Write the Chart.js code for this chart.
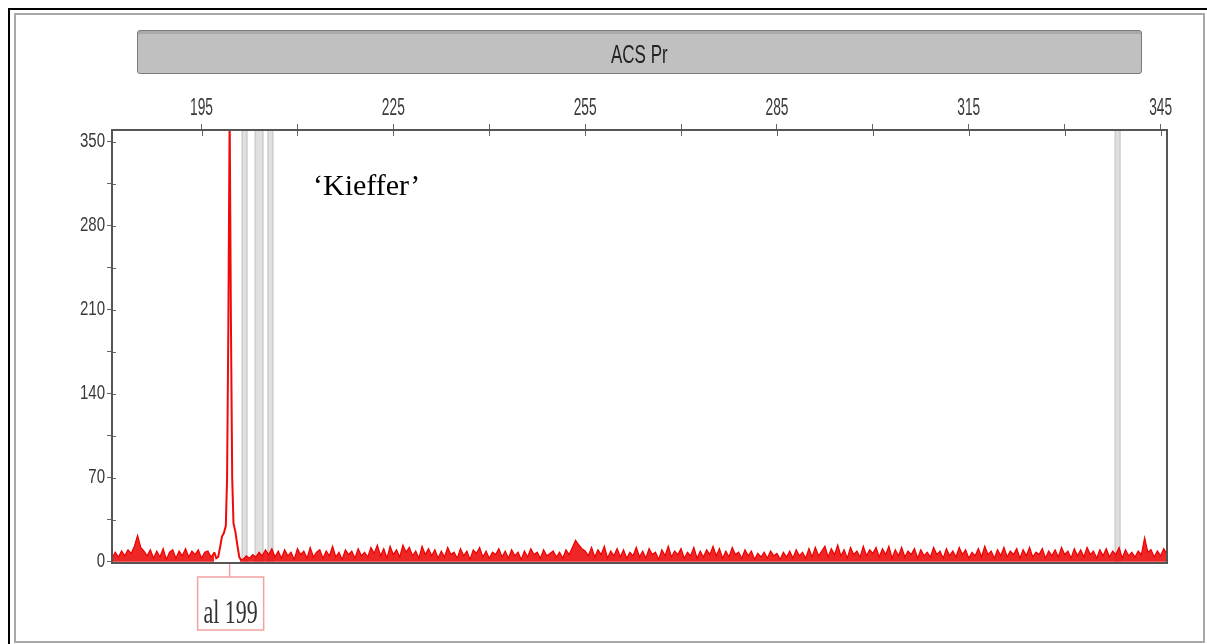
<!DOCTYPE html>
<html>
<head>
<meta charset="utf-8">
<script src="https://cdn.jsdelivr.net/npm/chart.js@4.4.0/dist/chart.umd.min.js"></script>
<style>
    body { margin: 0; background: #fff; }
    #wrap { position: relative; width: 1207px; height: 644px; overflow: hidden; background: #fff; }
    #chart { position: absolute; left: 0; top: 0; }
    .frame-black { position: absolute; left: 8px; top: 8px; width: 1199px; height: 640px; border-top: 2px solid #000; border-left: 2px solid #000; }
    .frame-gray { position: absolute; left: 14px; top: 13px; width: 1187px; height: 626px; border: 2px solid #a8a8a8; }
    #titlebar {
        position: absolute; left: 137px; top: 30px; width: 1003px; height: 42px;
        background: #c0c0c0; border: 1px solid #7c7c7c; border-radius: 3px;
        box-shadow: inset 0 3px 0 #a9a9a9;
        text-align: center; line-height: 46px;
    }
    #titlebar span {
        display: inline-block; transform: scale(0.85, 1.25);
        font-family: 'Liberation Sans', Arial, sans-serif; font-size: 20px; color: #222;
    }
    #kieffer {
        position: absolute; left: 313px; top: 168px;
        font-family: 'Liberation Serif', 'DejaVu Serif', serif; font-size: 30px; color: #000;
    }
</style>
</head>
<body>
<div id="wrap">
    <div class="frame-black"></div>
    <div class="frame-gray"></div>
    <canvas id="chart" width="1207" height="644"></canvas>
    <div id="titlebar"><span>ACS Pr</span></div>
    <div id="kieffer">‘Kieffer’</div>
</div>
<script>
// Fragment analysis trace, marker ACS Pr, cultivar 'Kieffer'

const xMin = 181;
const xMax = 346;
const xTicks = [195, 210, 225, 240, 255, 270, 285, 300, 315, 330, 345];
const xLabelTicks = [195, 225, 255, 285, 315, 345];
const yTicks = [0, 35, 70, 105, 140, 175, 210, 245, 280, 315, 350];
const yLabelTicks = [0, 70, 140, 210, 280, 350];

// background noise, sampled every 0.5 bp from 181 (null where the peak sits)
const noiseStart = 181;
const noiseStep = 0.5;
const noiseValues = [
    3, 8, 4, 9, 5, 10, 7, 13, 22, 12, 9, 5, 10, 3, 9, 4, 11, 2, 8, 10,
    3, 9, 5, 11, 4, 9, 6, 10, 3, 8, 9, 4, 8, null, null, null, null, null, null, null,
    2, 2, 5, 3, 6, 4, 8, 5, 10, 6, 11, 4, 9, 3, 10, 5, 8, 2, 11, 6,
    9, 3, 12, 4, 8, 10, 3, 9, 5, 13, 4, 8, 2, 10, 6, 9, 3, 11, 5, 8,
    4, 12, 7, 14, 5, 11, 3, 13, 6, 10, 4, 14, 8, 12, 5, 9, 3, 13, 6, 11,
    5, 10, 3, 9, 4, 12, 6, 8, 3, 11, 5, 9, 2, 10, 7, 12, 4, 9, 3, 8,
    6, 11, 4, 9, 3, 10, 5, 8, 2, 9, 4, 11, 6, 8, 3, 10, 5, 7, 9, 4,
    8, 3, 10, 6, 12, 18, 14, 11, 9, 5, 12, 4, 10, 6, 13, 3, 9, 5, 11, 4,
    10, 3, 8, 5, 12, 4, 9, 3, 11, 6, 8, 2, 10, 5, 13, 4, 9, 6, 11, 3,
    8, 5, 12, 3, 9, 4, 10, 6, 13, 5, 11, 3, 9, 4, 12, 6, 8, 3, 10, 5,
    9, 2, 7, 4, 8, 3, 9, 5, 7, 2, 8, 4, 9, 3, 10, 5, 8, 3, 11, 4,
    12, 5, 9, 13, 4, 11, 6, 14, 5, 10, 3, 12, 6, 9, 4, 13, 5, 10, 7, 12,
    4, 11, 6, 13, 3, 10, 5, 12, 4, 9, 6, 11, 3, 10, 5, 8, 4, 12, 6, 9,
    3, 11, 5, 9, 4, 12, 6, 10, 3, 8, 5, 11, 4, 13, 6, 9, 3, 10, 5, 12,
    4, 9, 6, 11, 3, 10, 5, 12, 4, 8, 6, 11, 3, 9, 5, 10, 4, 12, 6, 9,
    3, 11, 5, 10, 4, 12, 6, 9, 3, 10, 5, 11, 4, 9, 6, 12, 3, 10, 5, 8,
    4, 9, 6, 20, 8, 10, 4, 9, 5, 11, 6
];

// allele peak at 199
const peakX = [197.0, 197.3, 197.6, 197.9, 198.2, 198.5, 198.8, 199.0, 199.2, 199.4, 199.6, 199.8, 200.0, 200.3, 200.6, 200.9, 201.1];
const peakY = [8, 3, 4, 12, 21, 24, 30, 70, 200, 375, 200, 70, 32, 25, 14, 4, 2];
const alleleLabel = 'al 199';
const alleleX = 199.4;

// grey bins
const binStarts = [201.25, 203.3, 205.3, 337.8];
const binEnds = [202.2, 204.7, 206.25, 338.75];

const noiseData = noiseValues.map((v, i) => ({ x: noiseStart + i * noiseStep, y: v }));
const peakData = peakX.map((x, i) => ({ x: x, y: peakY[i] }));

const labelFont = "16px 'Liberation Sans', Arial, sans-serif";

const binsPlugin = {
    id: 'bins',
    beforeDatasetsDraw(chart) {
        const { ctx, chartArea, scales } = chart;
        ctx.save();
        binStarts.forEach((s, i) => {
            const x1 = scales.x.getPixelForValue(s);
            const x2 = scales.x.getPixelForValue(binEnds[i]);
            ctx.fillStyle = '#e0e0e0';
            ctx.fillRect(x1, chartArea.top, x2 - x1, chartArea.bottom - chartArea.top);
            ctx.fillStyle = '#cfcfcf';
            ctx.fillRect(x1, chartArea.top, 1.5, chartArea.bottom - chartArea.top);
            ctx.fillRect(x2 - 1.5, chartArea.top, 1.5, chartArea.bottom - chartArea.top);
        });
        ctx.restore();
    }
};

// narrow, tall tick labels like the original software, plus inner tick stubs
const tickLabelPlugin = {
    id: 'tickLabels',
    afterDraw(chart) {
        const { ctx, chartArea, scales } = chart;
        ctx.save();
        ctx.strokeStyle = '#666';
        ctx.lineWidth = 1;
        xTicks.forEach(v => {
            const x = Math.round(scales.x.getPixelForValue(v)) + 0.5;
            ctx.beginPath();
            ctx.moveTo(x, chartArea.top);
            ctx.lineTo(x, chartArea.top + 6);
            ctx.stroke();
        });
        yTicks.forEach(v => {
            const y = Math.round(scales.y.getPixelForValue(v)) + 0.5;
            ctx.beginPath();
            ctx.moveTo(chartArea.left, y);
            ctx.lineTo(chartArea.left + 4, y);
            ctx.stroke();
        });

        ctx.fillStyle = '#3a3a3a';
        ctx.font = labelFont;
        ctx.textAlign = 'center';
        ctx.textBaseline = 'middle';
        xLabelTicks.forEach(v => {
            ctx.save();
            ctx.translate(scales.x.getPixelForValue(v), chartArea.top - 21);
            ctx.scale(0.86, 1.45);
            ctx.fillText(String(v), 0, 0);
            ctx.restore();
        });
        ctx.textAlign = 'right';
        yLabelTicks.forEach(v => {
            ctx.save();
            ctx.translate(chartArea.left - 7, scales.y.getPixelForValue(v));
            ctx.scale(0.94, 1.22);
            ctx.fillText(String(v), 0, 0);
            ctx.restore();
        });
        ctx.restore();
    }
};

const framePlugin = {
    id: 'frame',
    afterDraw(chart) {
        const { ctx, chartArea, scales } = chart;
        ctx.save();
        ctx.strokeStyle = '#555';
        ctx.lineWidth = 2;
        ctx.strokeRect(chartArea.left, chartArea.top, chartArea.right - chartArea.left, chartArea.bottom - chartArea.top);

        // allele label box under the peak
        const px = scales.x.getPixelForValue(alleleX);
        const boxW = 66, boxH = 53;
        const boxTop = chartArea.bottom + 14;
        ctx.strokeStyle = '#f3a2a2';
        ctx.lineWidth = 1.5;
        ctx.beginPath();
        ctx.moveTo(px, chartArea.bottom + 1);
        ctx.lineTo(px, boxTop);
        ctx.stroke();
        ctx.strokeRect(px - 32, boxTop, boxW, boxH);

        ctx.fillStyle = '#333';
        ctx.textAlign = 'center';
        ctx.textBaseline = 'alphabetic';
        ctx.translate(px + 1, boxTop + 46);
        ctx.scale(1, 1.55);
        ctx.font = "22px 'Liberation Serif', 'DejaVu Serif', serif";
        ctx.fillText(alleleLabel, 0, 0);
        ctx.restore();
    }
};

new Chart(document.getElementById('chart').getContext('2d'), {
    type: 'line',
    data: {
        datasets: [
            {
                label: 'noise',
                data: noiseData,
                borderColor: 'rgb(238, 0, 0)',
                backgroundColor: 'rgba(235, 0, 0, 0.85)',
                borderWidth: 1.2,
                fill: 'origin',
                pointRadius: 0,
                tension: 0,
                spanGaps: false
            },
            {
                label: 'peak',
                data: peakData,
                borderColor: 'rgb(240, 10, 10)',
                borderWidth: 2,
                fill: false,
                pointRadius: 0,
                tension: 0
            }
        ]
    },
    options: {
        responsive: false,
        animation: false,
        layout: { padding: { left: 0, top: 0, right: 40, bottom: 81 } },
        plugins: {
            legend: { display: false },
            tooltip: { enabled: false }
        },
        scales: {
            x: {
                type: 'linear',
                position: 'top',
                min: xMin,
                max: xMax,
                afterBuildTicks: (axis) => { axis.ticks = xTicks.map(v => ({ value: v })); },
                afterFit: (axis) => { axis.height = 130; },
                grid: { drawOnChartArea: false, color: '#666', tickLength: 6 },
                border: { color: '#555', width: 2 },
                ticks: { display: false }
            },
            y: {
                type: 'linear',
                min: -1,
                max: 360,
                afterBuildTicks: (axis) => { axis.ticks = yTicks.map(v => ({ value: v })); },
                afterFit: (axis) => { axis.width = 112; },
                grid: { drawOnChartArea: false, color: '#666', tickLength: 5 },
                border: { color: '#555', width: 2 },
                ticks: { display: false }
            }
        }
    },
    plugins: [binsPlugin, tickLabelPlugin, framePlugin]
});
</script>
</body>
</html>
